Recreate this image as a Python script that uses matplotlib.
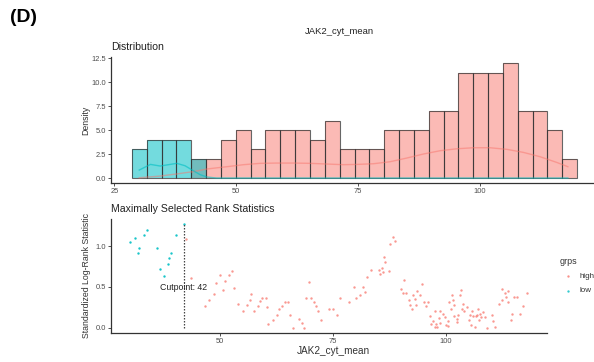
import numpy as np
import matplotlib
matplotlib.use('Agg')
import matplotlib.pyplot as plt

plt.rcParams['font.family'] = ['Liberation Sans', 'DejaVu Sans']

high_col = '#F8766D'
low_col = '#00BFC4'

# histogram: 30 bins over the JAK2_cyt_mean range
bin_lo, bin_hi = 28.6, 120.0
low_counts = [3, 4, 4, 4, 2] + [0] * 25
high_counts = [0, 0, 0, 0, 2, 2, 4, 5, 3, 5, 5, 5, 4, 6, 3, 3, 3, 5, 5, 5,
               7, 7, 11, 11, 11, 12, 7, 7, 5, 2]

# density curves (per group)
dens_x = [30.1, 32.4, 34.4, 36.1, 37.8, 39.5, 41.2, 42.6, 44.0, 46.0, 48.1,
          51.5, 54.9, 58.3, 61.8, 65.2, 68.6, 72.0, 74.8, 78.2, 81.6, 85.0,
          88.4, 91.9, 95.3, 98.7, 102.1, 105.6, 109.0, 112.4, 115.8, 118.1]
dens_low = [0.83, 1.42, 1.25, 1.39, 1.53, 1.28, 0.76, 0.35, 0.10, 0.0, 0.0,
            0.0, 0.0, 0.0, 0.0, 0.0, 0.0, 0.0, 0.0, 0.0, 0.0, 0.0,
            0.0, 0.0, 0.0, 0.0, 0.0, 0.0, 0.0, 0.0, 0.0, 0.0]
dens_high = [0.03, 0.12, 0.2, 0.32, 0.42, 0.55, 0.66, 0.8, 0.94, 1.06, 1.18,
             1.39, 1.53, 1.56, 1.56, 1.53, 1.46, 1.39, 1.42, 1.49, 1.70, 2.08,
             2.5, 2.85, 3.05, 3.16, 3.16, 2.99, 2.67, 2.22, 1.63, 1.18]

# standardized log-rank statistic per candidate cutpoint
stat_x = [30.2, 31.1, 31.8, 32.2, 33.3, 33.8, 36.1, 36.8, 37.6, 38.6, 38.8,
          39.2, 40.2, 42.0,
          42.6, 43.5, 46.8, 47.6, 48.6, 49.1, 50.1, 50.7, 51.2, 52.1, 52.7,
          53.1, 54.1, 55.1, 56.1, 56.6, 56.8, 57.6, 58.4, 58.8, 59.4, 60.1,
          60.5, 60.6, 61.8, 62.6, 63.1, 63.8, 64.4, 65.1, 65.4, 66.2, 67.5,
          68.1, 68.7, 69.1, 69.6, 70.1, 70.9, 71.2, 71.7, 72.4, 74.1, 75.1,
          75.8, 76.5, 78.6, 79.6, 80.1, 81.1, 81.7, 82.1, 82.5, 83.5, 85.1,
          85.4, 85.8, 86.1, 86.4, 86.6, 87.4, 87.6, 88.4, 88.7, 90.0, 90.6,
          90.7, 91.2, 91.8, 92.0, 92.6, 92.8, 93.1, 93.4, 93.7, 94.3, 94.8,
          95.1, 95.7, 96.1, 96.5, 96.8, 97.1, 97.5, 97.6, 97.9, 98.0, 98.5,
          98.7, 98.8, 99.3, 99.8, 100.0, 100.4, 100.4, 100.7, 101.1, 101.4,
          101.5, 101.8, 101.9, 102.4, 102.5, 102.7, 103.2, 103.4, 103.5,
          103.8, 104.1, 104.6, 105.0, 105.3, 105.5, 105.8, 106.1, 106.4,
          106.6, 106.9, 107.0, 107.3, 107.5, 107.7, 108.3, 108.6, 109.0,
          110.1, 110.5, 110.8, 111.7, 112.4, 112.5, 113.1, 113.4, 113.7,
          113.8, 114.4, 114.6, 115.0, 115.8, 116.4, 117.1, 118.0]
stat_y = [1.05, 1.10, 0.91, 0.98, 1.13, 1.20, 0.98, 0.72, 0.63, 0.78, 0.85,
          0.92, 1.13, 1.27,
          1.09, 0.61, 0.27, 0.34, 0.41, 0.55, 0.65, 0.46, 0.57, 0.64, 0.70,
          0.49, 0.29, 0.21, 0.28, 0.34, 0.41, 0.20, 0.27, 0.33, 0.36, 0.36,
          0.25, 0.04, 0.10, 0.16, 0.23, 0.26, 0.32, 0.31, 0.16, 0.00, 0.11,
          0.06, 0.00, 0.37, 0.56, 0.37, 0.31, 0.27, 0.21, 0.09, 0.23, 0.23,
          0.16, 0.36, 0.31, 0.50, 0.36, 0.40, 0.50, 0.44, 0.62, 0.71, 0.71,
          0.66, 0.73, 0.68, 0.87, 0.80, 0.70, 1.02, 1.11, 1.06, 0.47, 0.42,
          0.59, 0.43, 0.34, 0.28, 0.23, 0.40, 0.35, 0.28, 0.45, 0.40, 0.54,
          0.31, 0.26, 0.31, 0.14, 0.05, 0.08, 0.01, 0.20, 0.05, 0.01, 0.12,
          0.20, 0.06, 0.17, 0.13, 0.03, 0.08, 0.02, 0.31, 0.23, 0.40,
          0.34, 0.14, 0.28, 0.11, 0.07, 0.15, 0.40, 0.46, 0.23,
          0.29, 0.20, 0.25, 0.10, 0.15, 0.03, 0.21, 0.14, 0.01,
          0.14, 0.15, 0.23, 0.10, 0.17, 0.13, 0.19, 0.13, 0.00,
          0.15, 0.08, 0.01, 0.29, 0.47, 0.34, 0.42, 0.38, 0.45,
          0.31, 0.10, 0.17, 0.38, 0.38, 0.17, 0.26, 0.43]
cutpoint = 42

W, H = 594, 362
fig = plt.figure(figsize=(W / 100, H / 100), dpi=100)


def style(ax):
    for s in ['top', 'right']:
        ax.spines[s].set_visible(False)
    for s in ['left', 'bottom']:
        ax.spines[s].set_color('#333333')
        ax.spines[s].set_linewidth(0.9)
    ax.tick_params(length=2, width=0.6, color='#333333', labelsize=5.4,
                   labelcolor='#4d4d4d', pad=1.5)


# --- top: distribution ---
ax1 = fig.add_axes([111 / W, 1 - 182.7 / H, (600 - 111) / W, (182.7 - 57.3) / H])
edges = np.linspace(bin_lo, bin_hi, len(high_counts) + 1)
widths = np.diff(edges)
ax1.bar(edges[:-1], high_counts, width=widths, align='edge', color=high_col,
        alpha=0.5, edgecolor='none')
ax1.bar(edges[:-1], low_counts, width=widths, align='edge', color=low_col,
        alpha=0.55, edgecolor='none')
ax1.bar(edges[:-1], np.maximum(high_counts, low_counts), width=widths,
        align='edge', fill=False, edgecolor='#333333', linewidth=0.8, alpha=0.75)
ax1.plot(dens_x, dens_high, color=high_col, alpha=0.5, lw=1)
ax1.plot(dens_x, dens_low, color=low_col, alpha=0.6, lw=1)
ax1.set_xlim(24.3, 124.7)
ax1.set_ylim(-0.49, 12.6)
ax1.set_xticks([25, 50, 75, 100])
ax1.set_yticks([0, 2.5, 5, 7.5, 10, 12.5])
ax1.set_yticklabels(['0.0', '2.5', '5.0', '7.5', '10.0', '12.5'])
style(ax1)

# --- bottom: maximally selected rank statistics ---
ax2 = fig.add_axes([111 / W, 1 - 333.3 / H, (546.7 - 111) / W, (333.3 - 219.3) / H])
sx = np.array(stat_x)
sy = np.array(stat_y)
hi = sx > cutpoint
ax2.scatter(sx[hi], sy[hi], s=3, color=high_col, alpha=0.75, linewidths=0)
ax2.scatter(sx[~hi], sy[~hi], s=3, color=low_col, alpha=0.9, linewidths=0)
ax2.plot([cutpoint, cutpoint], [0, sy.max()], color='#444444', lw=0.9,
         linestyle=(0, (1.2, 1.2)))
ax2.text(cutpoint, 0.49, 'Cutpoint: %d' % cutpoint, ha='center', va='center',
         fontsize=6.3, color='#222222')
ax2.set_xlim(25.9, 122.3)
ax2.set_ylim(-0.068, 1.327)
ax2.set_xticks([50, 75, 100])
ax2.set_yticks([0, 0.5, 1.0])
ax2.set_yticklabels(['0.0', '0.5', '1.0'])
style(ax2)

# --- text ---
fig.text(10 / W, 1 - 18 / H, '(D)', fontsize=14, fontweight='bold', va='center')
fig.text(339 / W, 1 - 32 / H, 'JAK2_cyt_mean', fontsize=6.8, ha='center',
         va='center', color='#222222')
fig.text(111 / W, 1 - 47 / H, 'Distribution', fontsize=7.6, va='center',
         color='#222222')
fig.text(111 / W, 1 - 209 / H, 'Maximally Selected Rank Statistics',
         fontsize=7.6, va='center', color='#222222')
fig.text(86 / W, 1 - 120.5 / H, 'Density', fontsize=6.3, rotation=90,
         ha='center', va='center', color='#333333')
fig.text(86.5 / W, 1 - 275.8 / H, 'Standardized Log-Rank Statistic',
         fontsize=6.3, rotation=90, ha='center', va='center', color='#333333')
fig.text(333.7 / W, 1 - 351 / H, 'JAK2_cyt_mean', fontsize=7.2, ha='center',
         va='center', color='#333333')

# legend
fig.text(560 / W, 1 - 261 / H, 'grps', fontsize=6.5, va='center',
         color='#333333')
for lab, col, yy in [('high', high_col, 276), ('low', low_col, 291)]:
    fig.text(580 / W, 1 - yy / H, lab, fontsize=5.8, va='center',
             color='#333333')
    fig.add_artist(plt.Line2D([568.3 / W], [1 - yy / H], marker='o',
                              markersize=1.7, color=col, alpha=0.8,
                              markeredgewidth=0))

fig.savefig('out.png', dpi=100)
